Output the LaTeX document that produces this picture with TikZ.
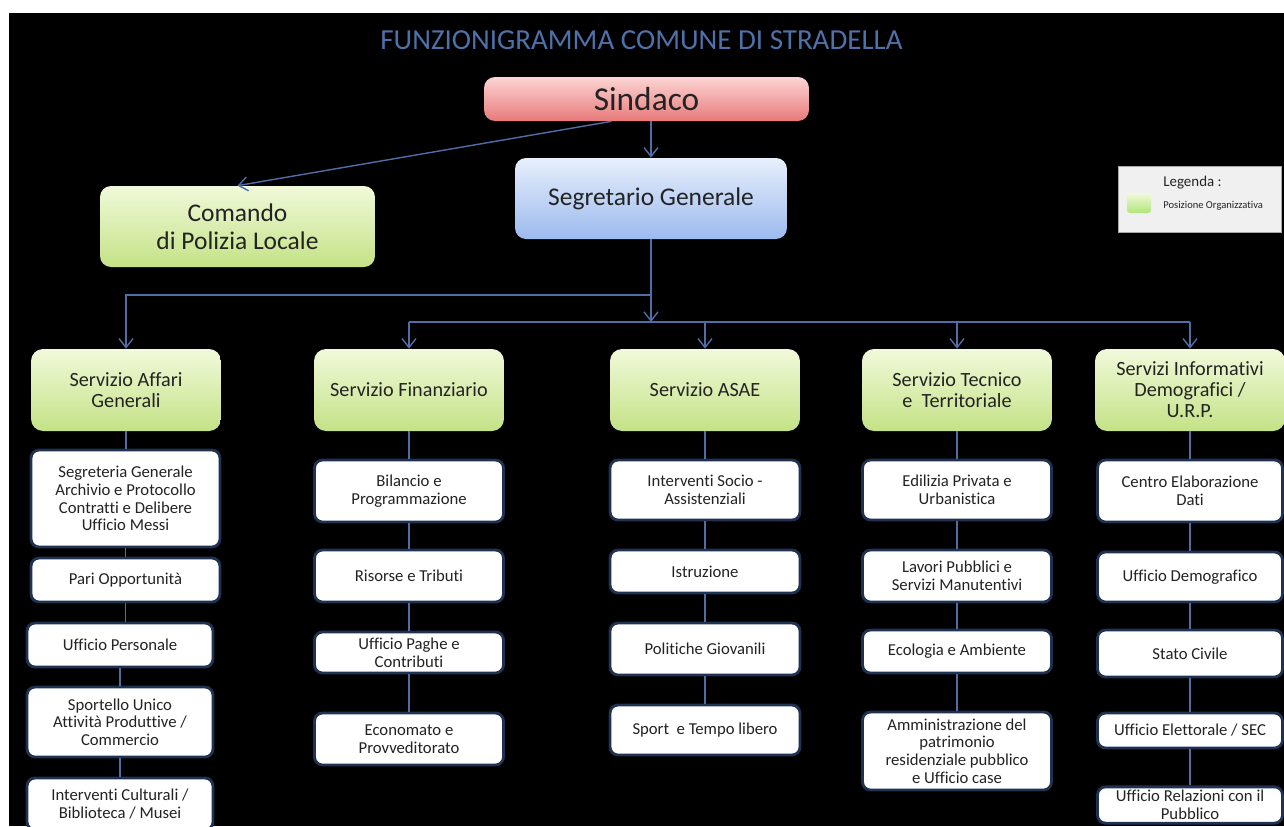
\documentclass[tikz,border=0pt]{standalone}
\usepackage{fontspec}
\setmainfont{Carlito}[Ligatures=NoCommon]
\usetikzlibrary{arrows.meta,calc}

\definecolor{titleblue}{RGB}{79,113,170}
\definecolor{linkblue}{RGB}{78,110,165}
\definecolor{boxedge}{RGB}{32,50,82}
\definecolor{inkgray}{RGB}{35,35,35}
\definecolor{greentop}{RGB}{241,249,218}
\definecolor{greenbot}{RGB}{196,226,134}
\definecolor{pinktop}{RGB}{252,212,212}
\definecolor{pinkbot}{RGB}{232,122,122}
\definecolor{bluetop}{RGB}{231,239,252}
\definecolor{bluebot}{RGB}{156,186,238}
\definecolor{legendgray}{RGB}{240,240,240}

\tikzset{
	topbox/.style={rounded corners=0.22cm, align=center, text=inkgray, font=\fontsize{14.5}{16}\selectfont},
	servicebox/.style={top color=greentop, bottom color=greenbot, rounded corners=0.24cm, minimum width=3.8cm, minimum height=1.64cm, align=center, text=inkgray, font=\fontsize{11.5}{12}\selectfont},
	officebox/.style={draw=boxedge, line width=1.6pt, fill=white, rounded corners=0.16cm, align=center, inner sep=2pt, text=inkgray, font=\fontsize{9.5}{10}\selectfont},
	connline/.style={draw=linkblue, line width=0.8pt},
	arrowline/.style={connline, -{Straight Barb[length=0.18cm,width=0.28cm]}},
}

\begin{document}
\begin{tikzpicture}[x=0.02cm,y=-0.02cm]
			%%%%% START %%%%%
			
			\useasboundingbox (0,0) rectangle (1284,826);
			\fill[white] (0,0) rectangle (1284,826);
			\fill[black] (9,13) rectangle (1284,826);
			
			\node[text=titleblue, font=\fontsize{16.5}{18}\selectfont] (title) at (641.5,40) {FUNZIONIGRAMMA COMUNE DI STRADELLA};
			
			\node[topbox, top color=pinktop, bottom color=pinkbot, minimum width=6.5cm, minimum height=0.88cm, font=\fontsize{19}{20}\selectfont] (sindaco) at (646.5,99) {Sindaco};
			\node[topbox, top color=bluetop, bottom color=bluebot, minimum width=5.44cm, minimum height=1.62cm] (segretario) at (651,198.5) {Segretario Generale};
			\node[topbox, top color=greentop, bottom color=greenbot, minimum width=5.5cm, minimum height=1.62cm] (polizia) at (237.5,226.5) {Comando\\di Polizia Locale};
			
			\node[draw=gray!70, fill=legendgray, minimum width=3.26cm, minimum height=1.32cm] (legenda) at (1199.5,199) {};
			\node[anchor=west, inner sep=0pt, text=inkgray, font=\fontsize{8.5}{9}\selectfont] (legtitle) at (1163,183) {Legenda :};
			\node[top color=greentop, bottom color=greenbot!90!green, rounded corners=0.06cm, minimum width=0.48cm, minimum height=0.4cm] (legkey) at (1139,203) {};
			\node[anchor=west, inner sep=0pt, text=inkgray, font=\fontsize{6}{7}\selectfont] (legtext) at (1163,206) {Posizione Organizzativa};
			
			\node[servicebox] (affari) at (126,390) {Servizio Affari\\Generali};
			\node[servicebox] (finanziario) at (409,390) {Servizio Finanziario};
			\node[servicebox] (asae) at (705,390) {Servizio ASAE};
			\node[servicebox] (tecnico) at (957,390) {Servizio Tecnico\\e\ \ Territoriale};
			\node[servicebox] (informativi) at (1190,390) {Servizi Informativi\\Demografici /\\U.R.P.};
			
			\node[officebox, minimum width=3.78cm, minimum height=1.94cm] (segreteria) at (125.5,498.5) {Segreteria Generale\\Archivio e Protocollo\\Contratti e Delibere\\Ufficio Messi};
			\node[officebox, minimum width=3.78cm, minimum height=0.88cm] (pari) at (125.5,580) {Pari Opportunità};
			\node[officebox, minimum width=3.72cm, minimum height=0.88cm] (personale) at (120,645) {Ufficio Personale};
			\node[officebox, minimum width=3.72cm, minimum height=1.4cm] (sportello) at (120,722) {Sportello Unico\\Attività Produttive /\\Commercio};
			\node[officebox, minimum width=3.72cm, minimum height=1.04cm] (cultura) at (120,804) {Interventi Culturali /\\Biblioteca / Musei};
			
			\node[officebox, minimum width=3.78cm, minimum height=1.24cm] (bilancio) at (409,491) {Bilancio e\\Programmazione};
			\node[officebox, minimum width=3.78cm, minimum height=1.04cm] (tributi) at (409,576) {Risorse e Tributi};
			\node[officebox, minimum width=3.78cm, minimum height=0.82cm] (paghe) at (409,652.5) {Ufficio Paghe e\\Contributi};
			\node[officebox, minimum width=3.78cm, minimum height=1.04cm] (economato) at (409,739) {Economato e\\Provveditorato};
			
			\node[officebox, minimum width=3.8cm, minimum height=1.2cm] (socio) at (705,490) {Interventi Socio -\\Assistenziali};
			\node[officebox, minimum width=3.8cm, minimum height=0.86cm] (istruzione) at (705,571.5) {Istruzione};
			\node[officebox, minimum width=3.8cm, minimum height=1.04cm] (giovani) at (705,649) {Politiche Giovanili};
			\node[officebox, minimum width=3.8cm, minimum height=1.0cm] (sport) at (705,730) {Sport\ \ e Tempo libero};
			
			\node[officebox, minimum width=3.78cm, minimum height=1.2cm] (edilizia) at (957,490) {Edilizia Privata e\\Urbanistica};
			\node[officebox, minimum width=3.78cm, minimum height=1.04cm] (lavori) at (957,576) {Lavori Pubblici e\\Servizi Manutentivi};
			\node[officebox, minimum width=3.78cm, minimum height=0.86cm] (ecologia) at (957,651.5) {Ecologia e Ambiente};
			\node[officebox, minimum width=3.78cm, minimum height=1.56cm] (patrimonio) at (957,751) {Amministrazione del\\patrimonio\\residenziale pubblico\\e Ufficio case};
			
			\node[officebox, minimum width=3.7cm, minimum height=1.24cm] (ced) at (1190,491) {Centro Elaborazione\\Dati};
			\node[officebox, minimum width=3.7cm, minimum height=1.0cm] (demografico) at (1190,577) {Ufficio Demografico};
			\node[officebox, minimum width=3.7cm, minimum height=0.94cm] (civile) at (1190,653.5) {Stato Civile};
			\node[officebox, minimum width=3.7cm, minimum height=0.7cm] (elettorale) at (1190,730.5) {Ufficio Elettorale / SEC};
			\node[officebox, minimum width=3.7cm, minimum height=0.72cm] (urp) at (1190,805) {Ufficio Relazioni con il\\Pubblico};
			
			% collegamenti
			\draw[arrowline] (segretario.north |- sindaco.south) -- (segretario.north);
			\draw[arrowline] ([xshift=-0.7cm]sindaco.south) -- (polizia.north);
			
			\coordinate (split) at (651,295);
			\coordinate (bus) at (651,322);
			\draw[arrowline] (segretario.south) -- (split) -| (affari.north);
			\draw[arrowline] (split) -- (bus);
			\draw[connline] (finanziario.north |- bus) -- (informativi.north |- bus);
			\foreach \s in {finanziario,asae,tecnico,informativi}
				\draw[arrowline] (\s.north |- bus) -- (\s.north);
			
			\foreach \u/\v in {affari/segreteria, segreteria/pari, pari/personale, personale/sportello, sportello/cultura,
					finanziario/bilancio, bilancio/tributi, tributi/paghe, paghe/economato,
					asae/socio, socio/istruzione, istruzione/giovani, giovani/sport,
					tecnico/edilizia, edilizia/lavori, lavori/ecologia, ecologia/patrimonio,
					informativi/ced, ced/demografico, demografico/civile, civile/elettorale, elettorale/urp}
				\draw[connline] (\u.south) -- (\u.south |- \v.north);
			
			%%%%% END %%%%%
\end{tikzpicture}
\end{document}
